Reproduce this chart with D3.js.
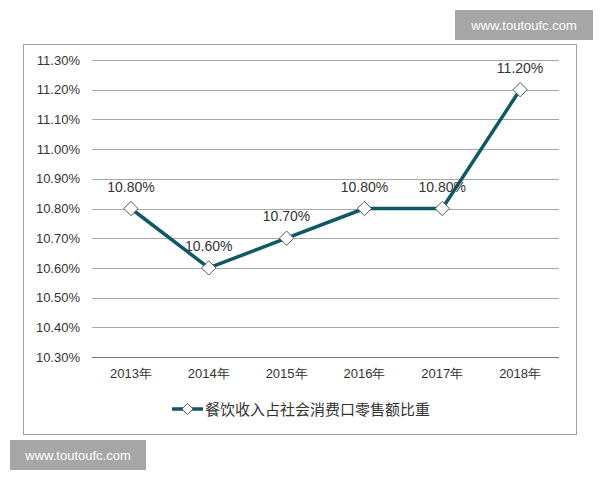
<!DOCTYPE html>
<html>
<head>
<meta charset="utf-8">
<script src="https://cdn.jsdelivr.net/npm/d3@7"></script>
<style>
    body { margin: 0; background: #fff; }
    text { font-family: "Liberation Sans", Arial, sans-serif; }
</style>
</head>
<body>
<div id="chart"></div>
<script>
const years = ['2013年', '2014年', '2015年', '2016年', '2017年', '2018年'];
const shares = [10.80, 10.60, 10.70, 10.80, 10.80, 11.20];
const yTicks = [10.30, 10.40, 10.50, 10.60, 10.70, 10.80, 10.90, 11.00, 11.10, 11.20, 11.30];
const seriesName = '餐饮收入占社会消费口零售额比重';
const watermark = 'www.toutoufc.com';

const WIDTH = 600, HEIGHT = 480;
const LINE_COLOR = '#0f5866';

let svg = d3.select('#chart').append('svg')
    .attr('width', WIDTH)
    .attr('height', HEIGHT);

// chart frame
svg.append('rect')
    .attr('x', 23.5).attr('y', 44.5)
    .attr('width', 553).attr('height', 390)
    .attr('fill', '#fff')
    .attr('stroke', '#a0a0a0');

let x = d3.scaleBand().domain(years).range([92, 559]);
let y = d3.scaleLinear().domain([10.30, 11.30]).range([357, 60]);

// gridlines
svg.append('g')
    .selectAll('line')
    .data(yTicks)
    .join('line')
    .attr('x1', 92).attr('x2', 559)
    .attr('y1', d => Math.round(y(d)) + 0.5)
    .attr('y2', d => Math.round(y(d)) + 0.5)
    .attr('stroke', d => d == 10.30 ? '#777' : '#a8a8a8')
    .attr('stroke-width', 1);

// y axis labels
let yAxis = svg.append('g')
    .attr('transform', 'translate(80,0)')
    .call(d3.axisLeft(y).tickValues(yTicks).tickSize(0).tickPadding(0)
        .tickFormat(d => d.toFixed(2) + '%'));
yAxis.select('.domain').remove();
yAxis.selectAll('text')
    .attr('font-size', 13)
    .attr('fill', '#333');

// x axis labels
let xAxis = svg.append('g')
    .attr('transform', 'translate(0,369)')
    .call(d3.axisBottom(x).tickSize(0).tickPadding(0));
xAxis.select('.domain').remove();
xAxis.selectAll('text')
    .attr('font-size', 13)
    .attr('fill', '#333');

let cx = d => x(d) + x.bandwidth() / 2;

let line = d3.line()
    .x((d, i) => cx(years[i]))
    .y(d => y(d));

svg.append('path')
    .datum(shares)
    .attr('d', line)
    .attr('fill', 'none')
    .attr('stroke', LINE_COLOR)
    .attr('stroke-width', 3.5)
    .attr('stroke-linejoin', 'round');

let diamond = d3.symbol().type(d3.symbolDiamond2).size(130);

svg.append('g')
    .selectAll('path')
    .data(shares)
    .join('path')
    .attr('d', diamond)
    .attr('transform', (d, i) => `translate(${cx(years[i])},${y(d)})`)
    .attr('fill', '#fff')
    .attr('stroke', '#555')
    .attr('stroke-width', 1);

// value labels
svg.append('g')
    .selectAll('text')
    .data(shares)
    .join('text')
    .attr('x', (d, i) => cx(years[i]))
    .attr('y', d => y(d) - 17)
    .attr('text-anchor', 'middle')
    .attr('font-size', 14)
    .attr('fill', '#333')
    .text(d => d.toFixed(2) + '%');

// legend
let legend = svg.append('g').attr('transform', 'translate(172,409)');
legend.append('line')
    .attr('x1', 0).attr('x2', 31)
    .attr('stroke', LINE_COLOR)
    .attr('stroke-width', 3.5);
legend.append('path')
    .attr('d', d3.symbol().type(d3.symbolDiamond2).size(80))
    .attr('transform', 'translate(15.5,0)')
    .attr('fill', '#fff')
    .attr('stroke', '#555');
legend.append('text')
    .attr('x', 33).attr('y', 5.5)
    .attr('font-size', 15)
    .attr('fill', '#333')
    .style('font-family', '"Noto Sans CJK SC", sans-serif')
    .text(seriesName);

// watermarks
function drawWatermark(x0, y0, w, h) {
    svg.append('rect')
        .attr('x', x0).attr('y', y0)
        .attr('width', w).attr('height', h)
        .attr('fill', '#a6a6a6');
    svg.append('text')
        .attr('x', x0 + w / 2).attr('y', y0 + h / 2 + 5)
        .attr('text-anchor', 'middle')
        .attr('font-size', 13)
        .attr('fill', '#fff')
        .text(watermark);
}
drawWatermark(455, 10, 138, 30);
drawWatermark(10, 440, 136, 30);
</script>
</body>
</html>
